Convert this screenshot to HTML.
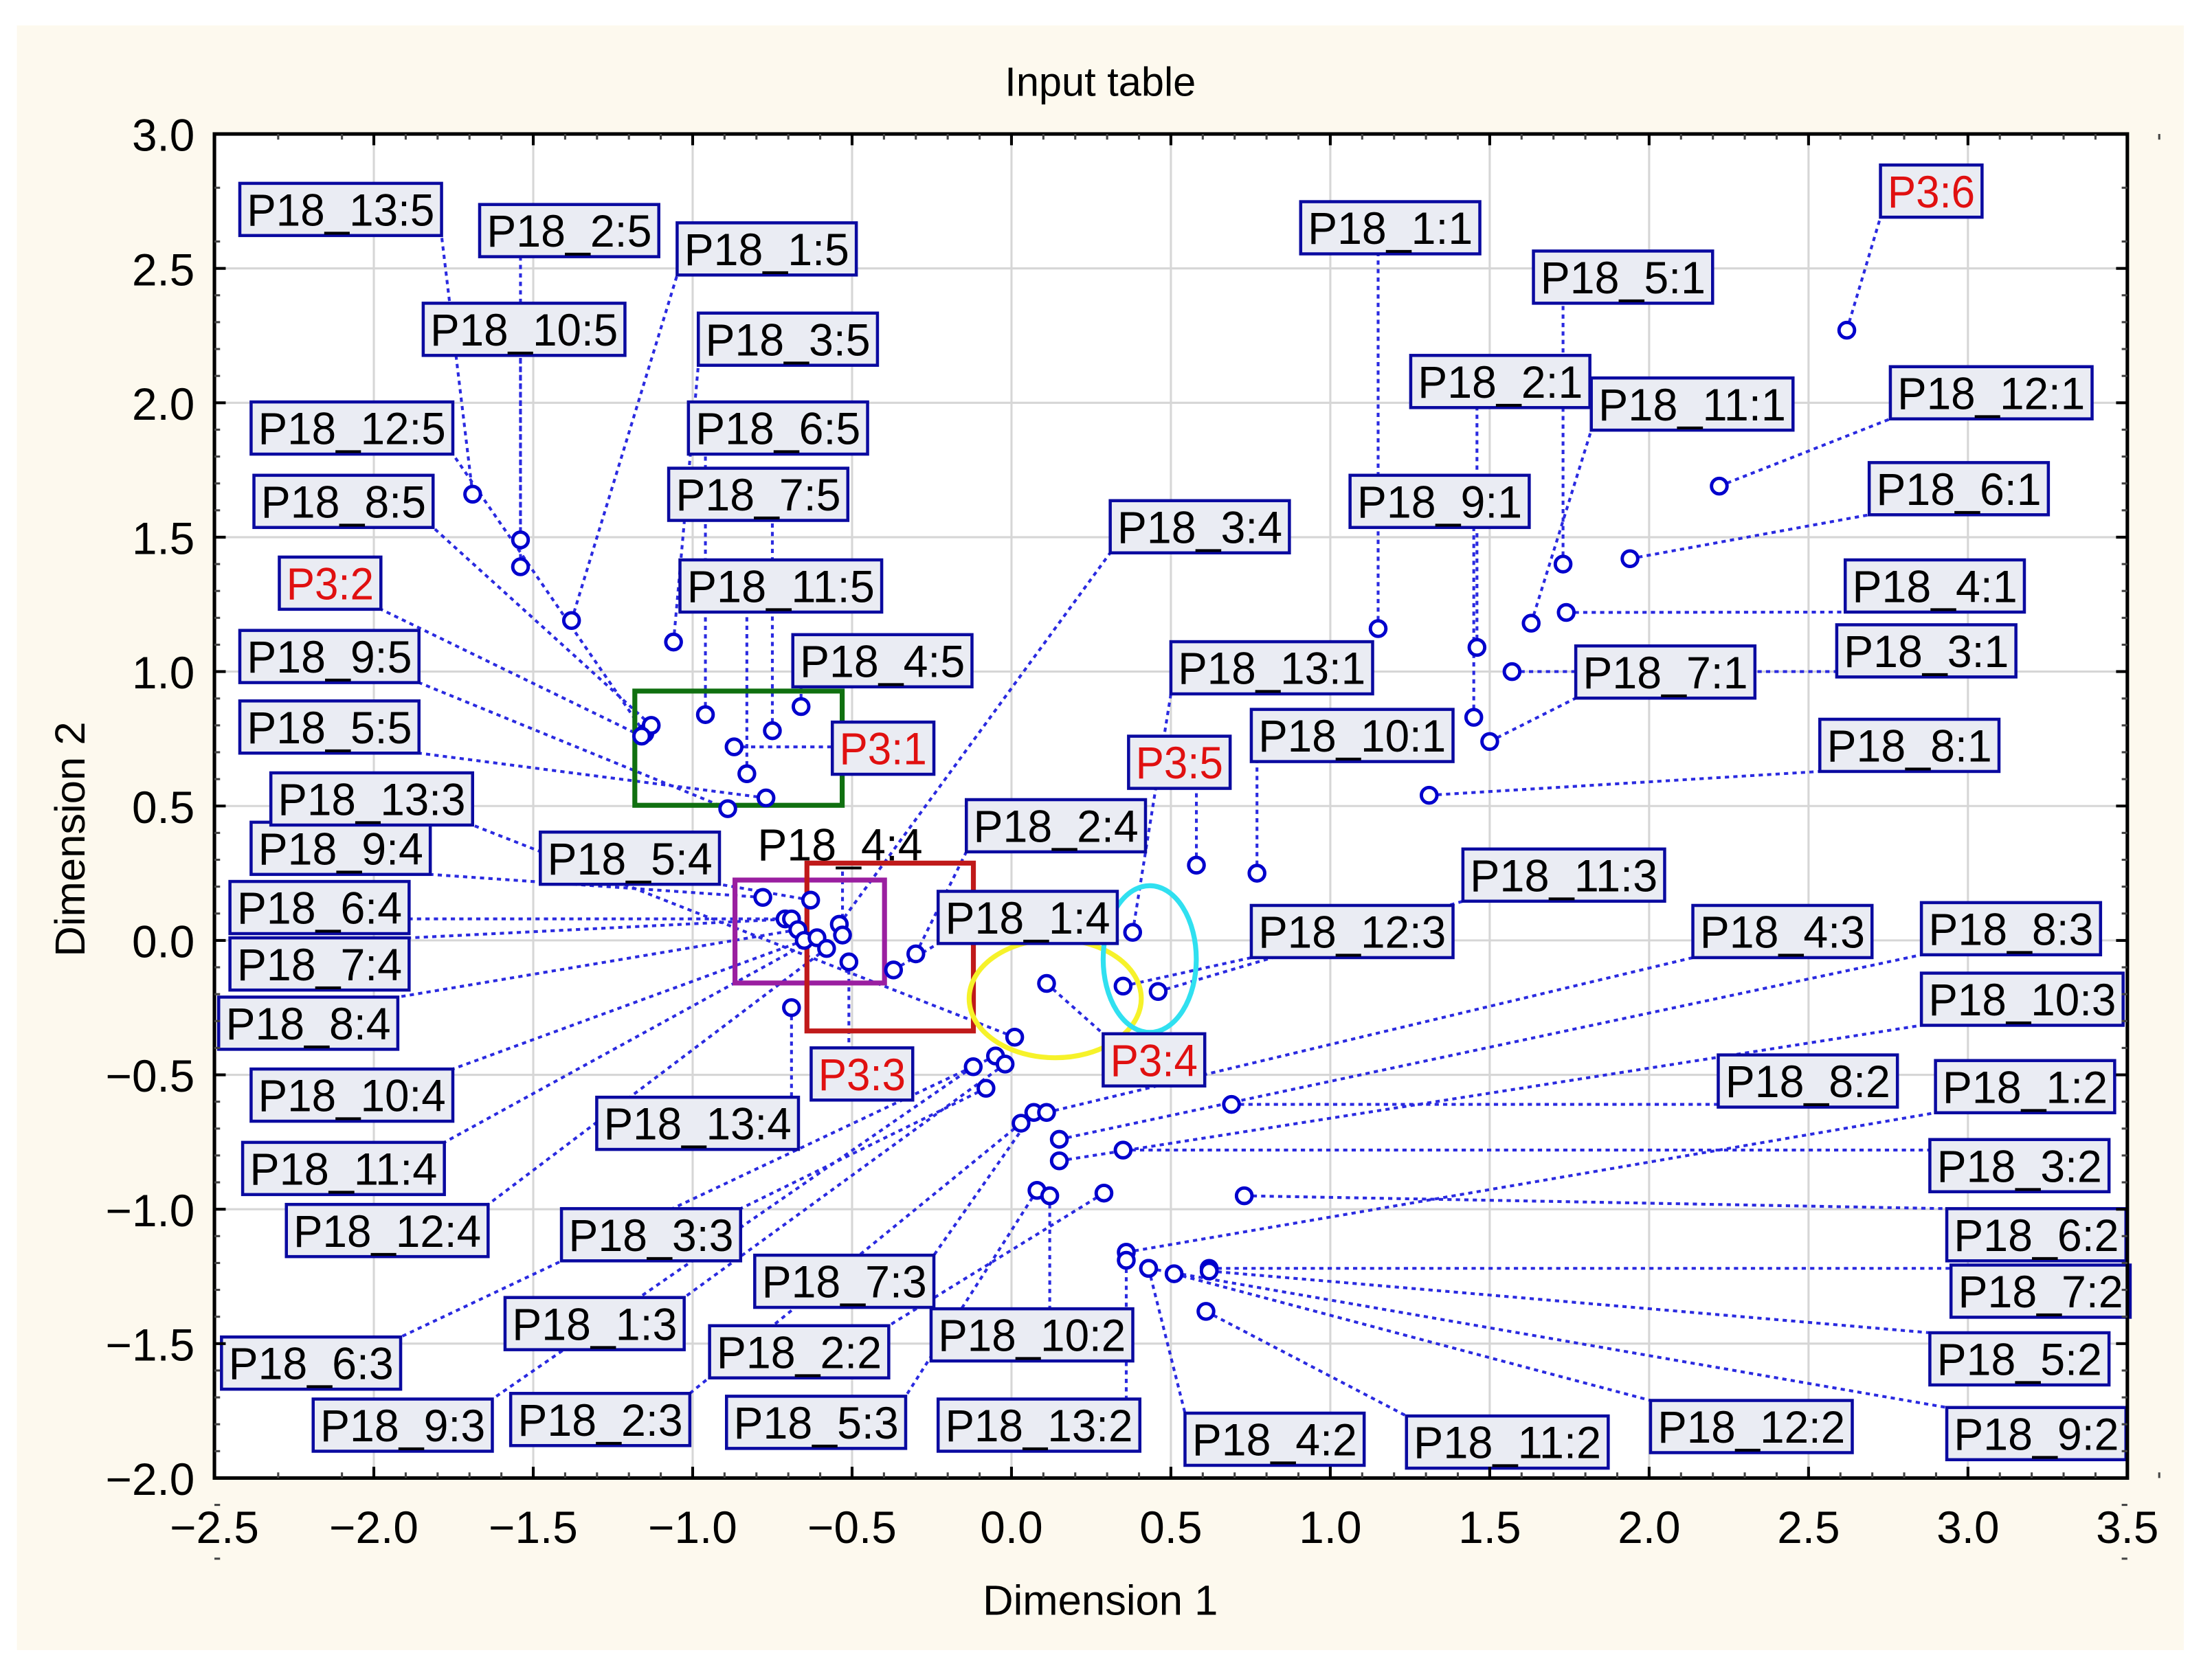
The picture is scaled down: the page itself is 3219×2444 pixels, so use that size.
<!DOCTYPE html>
<html><head><meta charset="utf-8"><style>
html,body{margin:0;padding:0;background:#fff;}
svg{display:block;}
text{font-family:"Liberation Sans",Arial,sans-serif;}
</style></head><body>
<svg id="chart" width="3219" height="2444" viewBox="0 0 1568 1190.5" preserveAspectRatio="none">
<rect x="12" y="18" width="1536" height="1152" fill="#fdf9ee"/>
<text x="780" y="68" font-size="29" text-anchor="middle">Input table</text>
<rect x="152" y="95" width="1356" height="953" fill="#ffffff"/>
<g id="grid"></g>
<g id="leaders"></g>
<g id="annot"></g>
<g id="pts"></g>
<g id="labels"></g>
<rect x="152" y="95" width="1356" height="953" fill="none" stroke="#000" stroke-width="2.5"/>
<g id="ticks"></g>
<text x="780" y="1145" font-size="30" text-anchor="middle">Dimension 1</text>
<text x="60" y="595" font-size="30" text-anchor="middle" transform="rotate(-90 60 595)">Dimension 2</text>
</svg>
<script>
const names = ["P18_13:5","P18_2:5","P18_10:5","P18_1:5","P18_3:5","P18_6:5","P18_7:5","P18_11:5","P18_4:5","P18_12:5","P18_8:5","P3:2","P18_9:5","P18_5:5","P3:1",
"P18_9:4","P18_6:4","P18_7:4","P18_8:4","P18_5:4","P18_10:4","P18_11:4","P18_12:4","P18_13:4","P18_3:4","P18_4:4","P18_2:4","P18_1:4","P3:3",
"P3:4","P18_13:1","P18_11:3","P18_12:3","P3:5","P18_10:1",
"P18_1:1","P18_5:1","P18_2:1","P18_11:1","P18_12:1","P3:6","P18_6:1","P18_9:1","P18_4:1","P18_3:1","P18_7:1","P18_8:1",
"P18_13:3","P18_6:3","P18_1:3","P18_9:3","P18_3:3","P18_2:3","P18_7:3","P18_4:3","P18_8:3","P18_10:3","P18_5:3",
"P18_10:2","P18_2:2","P18_3:2","P18_8:2","P18_6:2","P18_1:2","P18_13:2","P18_4:2","P18_12:2","P18_7:2","P18_11:2","P18_5:2","P18_9:2"];
const dim1 = [-1.69,-1.54,-1.54,-1.38,-1.06,-0.96,-0.75,-0.83,-0.66,-1.15,-1.13,-1.16,-0.89,-0.77,-0.87,
-0.78,-0.71,-0.69,-0.67,-0.63,-0.65,-0.61,-0.58,-0.69,-0.54,-0.53,-0.30,-0.37,-0.51,
0.11,0.38,0.46,0.35,0.58,0.77,
1.15,1.73,1.46,1.63,2.22,2.62,1.94,1.45,1.74,1.57,1.50,1.31,
0.01,-0.05,-0.02,-0.12,-0.08,0.03,0.07,0.11,0.15,0.15,0.08,
0.12,0.29,0.35,0.69,0.73,0.36,0.36,0.43,0.51,0.62,0.61,0.62,0.43];
const dim2 = [1.66,1.49,1.39,1.19,1.11,0.84,0.78,0.62,0.87,0.77,0.80,0.76,0.49,0.53,0.72,
0.16,0.08,0.08,0.04,0.15,0.00,0.01,-0.03,-0.25,0.06,0.02,-0.05,-0.11,-0.08,
-0.16,0.03,-0.19,-0.17,0.28,0.25,
1.16,1.40,1.09,1.18,1.69,2.27,1.42,0.83,1.22,1.00,0.74,0.54,
-0.36,-0.43,-0.46,-0.47,-0.55,-0.68,-0.64,-0.64,-0.74,-0.82,-0.93,
-0.95,-0.94,-0.78,-0.61,-0.95,-1.16,-1.19,-1.22,-1.24,-1.22,-1.38,-1.23,-1.22];
// label box positions (layout, display px): left, top
const boxL = [170,340,300,480,495,488,474,482,562,178,180,198,170,170,590,
178,163,163,155,383,178,172,203,423,787,532,685,665,575,
782,830,1037,887,800,887,
922,1087,1000,1128,1340,1333,1325,957,1308,1302,1117,1290,
192,157,358,222,398,362,535,1200,1362,1362,515,
660,503,1368,1218,1380,1372,665,840,1170,1383,997,1368,1380];
const boxT = [130,145,215,158,222,285,332,397,450,285,337,395,447,497,512,
583,625,665,707,590,758,810,854,778,355,580,567,632,743,
733,455,602,642,522,503,
143,178,252,268,260,117,328,337,397,443,458,510,
548,948,920,992,857,988,890,642,640,690,990,
928,940,808,748,857,752,992,1002,993,897,1004,945,998];
const xTicks = [-2.5,-2.0,-1.5,-1.0,-0.5,0.0,0.5,1.0,1.5,2.0,2.5,3.0,3.5];
const yTicks = [3.0,2.5,2.0,1.5,1.0,0.5,0.0,-0.5,-1.0,-1.5,-2.0];

const NS="http://www.w3.org/2000/svg";
const X=v=>152+(v+2.5)*226, Y=v=>95+(3-v)*190.6;
function mk(tag,attrs,parent){const e=document.createElementNS(NS,tag);for(const k in attrs)e.setAttribute(k,attrs[k]);parent.appendChild(e);return e;}
const grid=document.getElementById('grid'),ticks=document.getElementById('ticks');
xTicks.forEach((t,i)=>{
  if(i>0&&i<xTicks.length-1){const g=mk('line',{x1:X(t),x2:X(t),y1:95,y2:1048,stroke:'#d6d6d6','stroke-width':1.5},grid);
  
  }
  mk('line',{x1:X(t),x2:X(t),y1:1048,y2:1040,stroke:'#000','stroke-width':2},ticks);
  mk('line',{x1:X(t),x2:X(t),y1:95,y2:103,stroke:'#000','stroke-width':2},ticks);
  for(let k=1;k<5&&i<xTicks.length-1;k++){const xx=X(t)+k*45.2;mk('line',{x1:xx,x2:xx,y1:1048,y2:1044,stroke:'#444','stroke-width':1.5},ticks);mk('line',{x1:xx,x2:xx,y1:95,y2:99,stroke:'#444','stroke-width':1.5},ticks);}
  const tx=mk('text',{x:X(t),y:1094,'font-size':32,'text-anchor':'middle'},ticks);
  tx.textContent=t.toFixed(1).replace('-','\u2212');
  
  
});
yTicks.forEach((t,i)=>{
  if(i>0&&i<yTicks.length-1){const g=mk('line',{x1:152,x2:1508,y1:Y(t),y2:Y(t),stroke:'#d6d6d6','stroke-width':1.5},grid);
  
  }
  mk('line',{x1:152,x2:160,y1:Y(t),y2:Y(t),stroke:'#000','stroke-width':2},ticks);
  mk('line',{x1:1508,x2:1500,y1:Y(t),y2:Y(t),stroke:'#000','stroke-width':2},ticks);
  for(let k=1;k<5&&i<yTicks.length-1;k++){const yy=Y(t)+k*38.12;mk('line',{x1:152,x2:156,y1:yy,y2:yy,stroke:'#444','stroke-width':1.5},ticks);mk('line',{x1:1508,x2:1504,y1:yy,y2:yy,stroke:'#444','stroke-width':1.5},ticks);}
  const tx=mk('text',{x:138,y:Y(t)+12,'font-size':32,'text-anchor':'end'},ticks);
  tx.textContent=t.toFixed(1).replace('-','\u2212');
  
  
});
// annotations
const an=document.getElementById('annot');
const a1=mk('rect',{x:450,y:490,width:147,height:81,fill:'none',stroke:'#107010','stroke-width':3.5},an);


const a2=mk('rect',{x:521,y:624,width:106,height:73,fill:'none',stroke:'#9a1fa0','stroke-width':3.5},an);


const a3=mk('rect',{x:572,y:612,width:118,height:119,fill:'none',stroke:'#c01a1a','stroke-width':3.5},an);


const a4=mk('ellipse',{cx:748,cy:708,rx:61,ry:42,fill:'none',stroke:'#f6f22a','stroke-width':3.5},an);


const a5=mk('ellipse',{cx:815,cy:680,rx:33,ry:52,fill:'none',stroke:'#30e0f0','stroke-width':3.5},an);



const Lg=document.getElementById('leaders'),Pg=document.getElementById('pts'),Bg=document.getElementById('labels');
names.forEach((n,i)=>{
  const px=X(dim1[i]),py=Y(dim2[i]);
  const isP3=n.startsWith('P3');
  const w=isP3?72:(n.length>=8?143:127),h=37,bx=boxL[i],by=boxT[i];
  const ex=Math.min(Math.max(px,bx),bx+w),ey=Math.min(Math.max(py,by),by+h);
  const ln=mk('line',{x1:px,y1:py,x2:ex,y2:ey,stroke:'#2a2ae0','stroke-width':2,'stroke-dasharray':'3 3'},Lg);
  
  
  const c=mk('circle',{cx:px,cy:py,r:5.5,fill:'#fff',stroke:'#0000cc','stroke-width':2.4},Pg);
  
  
  const g=mk('g',{},Bg);
  
  
  if(n!=='P18_4:4') mk('rect',{x:bx,y:by,width:w,height:h,fill:'#eaecf3',stroke:'#0a0aa0','stroke-width':2.2},g);
  const t=mk('text',{x:bx+5,y:by+30,'font-size':32,fill:isP3?'#e01010':'#000',textLength:w-10,lengthAdjust:'spacingAndGlyphs'},g);
  t.textContent=n;
});
</script>
</body></html>
